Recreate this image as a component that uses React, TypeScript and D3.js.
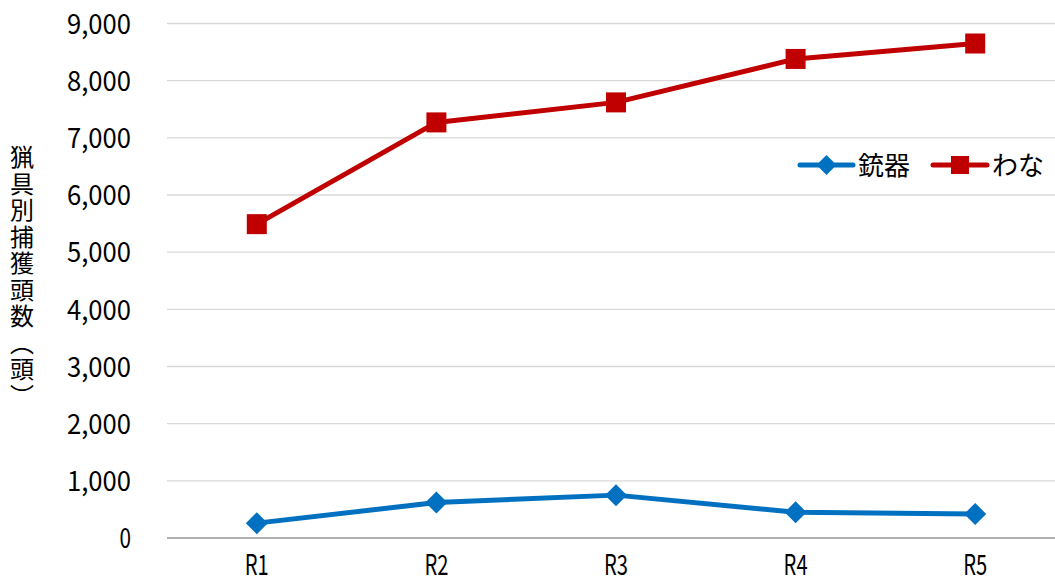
import React from "react";
import * as d3 from "d3";

const categories = ["R1", "R2", "R3", "R4", "R5"];
const gunValues = [260, 620, 750, 450, 420];
const trapValues = [5490, 7270, 7620, 8380, 8650];
const yTicks = [0, 1000, 2000, 3000, 4000, 5000, 6000, 7000, 8000, 9000];
const seriesNames = ["銃器", "わな"];
const yTitle = "猟具別捕獲頭数（頭）";

const W = 1055;
const H = 579;
const FONT = "'Noto Sans CJK JP', 'Noto Sans', sans-serif";
const BLUE = "#0070C0";
const RED = "#C00000";

export default function App() {
  const x = d3.scalePoint<string>().domain(categories).range([167, 1065]).padding(0.5);
  const y = d3.scaleLinear().domain([0, 9000]).range([538, 23.5]);
  const fmt = d3.format(",");
  const line = d3
    .line<number>()
    .x((_, i) => x(categories[i]) as number)
    .y((d) => y(d));

  const diamond = (cx: number, cy: number, r: number) =>
    `M${cx},${cy - r}L${cx + r},${cy}L${cx},${cy + r}L${cx - r},${cy}Z`;

  return (
    <svg
      width={W}
      height={H}
      style={{ position: "absolute", left: 0, top: 0, background: "#fff" }}
      fontFamily={FONT}
    >
      <rect x={0} y={0} width={W} height={H} fill="#fff" />
      {yTicks.map((t) => (
        <line
          key={t}
          x1={167}
          x2={1065}
          y1={y(t)}
          y2={y(t)}
          stroke={t === 0 ? "#b0b0b0" : "#d9d9d9"}
          strokeWidth={t === 0 ? 2 : 1.3}
        />
      ))}
      {yTicks.map((t) => {
        const s = fmt(t);
        return (
          <text
            key={"l" + t}
            x={131}
            y={y(t) + 10.3}
            textAnchor="end"
            fontSize={28}
            fill="#000"
            textLength={s.length === 1 ? 11.5 : 64}
            lengthAdjust="spacingAndGlyphs"
          >
            {s}
          </text>
        );
      })}
      {categories.map((c) => (
        <text
          key={c}
          x={x(c) as number}
          y={574.5}
          textAnchor="middle"
          fontSize={28.5}
          fill="#000"
          textLength={24}
          lengthAdjust="spacingAndGlyphs"
        >
          {c}
        </text>
      ))}
      <text
        x={22}
        y={277.5}
        textAnchor="middle"
        fontSize={24}
        fill="#000"
        letterSpacing={2.5}
        style={{ writingMode: "vertical-rl" } as any}
        writingMode="vertical-rl"
      >
        {yTitle}
      </text>

      <path d={line(gunValues) || ""} fill="none" stroke={BLUE} strokeWidth={5} strokeLinejoin="round" />
      {gunValues.map((v, i) => (
        <path key={"g" + i} d={diamond(x(categories[i]) as number, y(v), 11)} fill={BLUE} />
      ))}

      <path d={line(trapValues) || ""} fill="none" stroke={RED} strokeWidth={5} strokeLinejoin="round" />
      {trapValues.map((v, i) => (
        <rect
          key={"t" + i}
          x={(x(categories[i]) as number) - 10}
          y={y(v) - 10}
          width={20}
          height={20}
          fill={RED}
        />
      ))}

      {/* Legend */}
      <line x1={800} x2={853} y1={165} y2={165} stroke={BLUE} strokeWidth={5} strokeLinecap="round" />
      <path d={diamond(826.5, 165, 10)} fill={BLUE} />
      <text x={858} y={175} fontSize={26} fill="#000">
        {seriesNames[0]}
      </text>
      <line x1={933} x2={987} y1={165} y2={165} stroke={RED} strokeWidth={5} strokeLinecap="round" />
      <rect x={951} y={156} width={18} height={18} fill={RED} />
      <text x={992} y={175} fontSize={26} fill="#000">
        {seriesNames[1]}
      </text>
    </svg>
  );
}
